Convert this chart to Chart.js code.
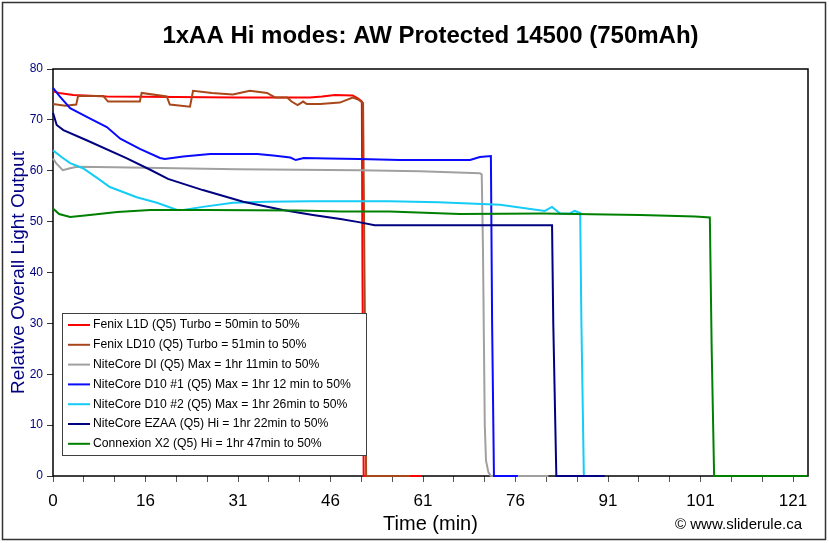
<!DOCTYPE html>
<html>
<head>
<meta charset="utf-8">
<title>1xAA Hi modes: AW Protected 14500 (750mAh)</title>
<script src="https://cdn.jsdelivr.net/npm/chart.js@4.4.0/dist/chart.umd.min.js"></script>
<style>
  html, body { margin: 0; padding: 0; background: #fff; }
  #wrap { width: 829px; height: 543px; }
</style>
</head>
<body>
<div id="wrap"><canvas id="chart" width="829" height="543"></canvas></div>
<script>
// ---- data (time in minutes, relative light output) ----
const xTickLabels = ['0', '16', '31', '46', '61', '76', '91', '101', '121'];

const l1dTime   = [0, 1, 3.3, 8.8, 20, 30, 42, 44, 46.1, 49, 49.9, 50.5, 50.6, 50.8, 60.3];
const l1dOutput = [75.6, 75.3, 74.9, 74.6, 74.5, 74.4, 74.4, 74.6, 74.9, 74.8, 74.2, 73.6, 40, 0, 0];

const ld10Time   = [0, 2, 3.8, 4.1, 8.2, 9, 14.2, 14.5, 18.6, 19.1, 22.4, 22.9, 26, 29.4, 32.2, 35, 36.3, 38.3, 39, 40, 40.9, 41.5, 43.7, 46.9, 49, 49.9, 50.7, 51.0, 51.2, 58.4];
const ld10Output = [73.1, 72.8, 73.0, 74.7, 74.7, 73.6, 73.6, 75.3, 74.6, 73.0, 72.6, 75.7, 75.3, 75.0, 75.7, 75.3, 74.4, 74.4, 73.6, 72.9, 73.6, 73.1, 73.1, 73.4, 74.4, 74.0, 73.3, 30, 0, 0];

const diTime   = [0, 0.5, 1.6, 2.8, 3.9, 10, 20, 30, 40, 50, 60, 69.8, 70.1, 70.3, 70.6, 70.8, 71.2, 71.6, 81];
const diOutput = [62.4, 61.5, 60.1, 60.5, 60.8, 60.7, 60.5, 60.3, 60.2, 60.1, 59.9, 59.5, 59.3, 45, 10, 3, 0.7, 0, 0];

const d10aTime   = [0, 1.1, 2.8, 6, 8.8, 11, 14.2, 17.5, 18.3, 21.3, 25.7, 33.4, 36, 38.8, 39.7, 41, 45, 50, 56.7, 63.3, 68.2, 69.8, 71.6, 71.8, 72.1, 76];
const d10aOutput = [76.3, 74.6, 72.3, 70.3, 68.6, 66.3, 64.3, 62.5, 62.3, 62.8, 63.3, 63.3, 63.0, 62.6, 62.1, 62.5, 62.4, 62.3, 62.1, 62.1, 62.1, 62.7, 62.9, 30, 0, 0];

const d10bTime   = [0, 1.5, 2.8, 4.9, 7.2, 9.3, 13.7, 17, 20.3, 21.3, 24.5, 29.4, 35, 42, 55, 63, 73.1, 80.4, 81.6, 82.9, 84.5, 85.3, 86.2, 86.4, 86.8, 88];
const d10bOutput = [64, 62.6, 61.5, 60.5, 58.6, 56.8, 54.8, 53.7, 52.3, 52.3, 52.9, 53.7, 53.9, 54, 54, 53.8, 53.3, 52.1, 52.9, 51.6, 51.6, 52.1, 51.7, 30, 0, 0];

const ezaaTime   = [0, 0.6, 1.7, 5.5, 12, 15.9, 18.8, 24.5, 31.1, 37.6, 42.5, 47, 50, 52.6, 60, 70, 78, 81.6, 81.8, 82.3, 90.2];
const ezaaOutput = [71.4, 69, 68, 66, 62.5, 60.2, 58.4, 56.2, 53.9, 52.3, 51.3, 50.5, 49.9, 49.3, 49.3, 49.3, 49.3, 49.3, 30, 0, 0];

const x2Time   = [0, 1, 2.8, 6, 10.5, 15.9, 25, 40, 47, 55, 66.5, 80, 96, 105, 107.4, 107.7, 108.1, 123.4];
const x2Output = [52.6, 51.5, 50.9, 51.3, 51.9, 52.3, 52.3, 52.2, 52.0, 52.0, 51.5, 51.6, 51.3, 51.0, 50.8, 25, 0, 0];

const seriesLabels = [
    'Fenix L1D (Q5) Turbo = 50min to 50%',
    'Fenix LD10 (Q5) Turbo = 51min to 50%',
    'NiteCore DI (Q5) Max = 1hr 11min to 50%',
    'NiteCore D10 #1 (Q5) Max = 1hr 12 min to 50%',
    'NiteCore D10 #2 (Q5) Max = 1hr 26min to 50%',
    'NiteCore EZAA (Q5) Hi = 1hr 22min to 50%',
    'Connexion X2 (Q5) Hi = 1hr 47min to 50%',
];
const seriesColors = ['#ff0000', '#a8481a', '#a0a0a0', '#0a0aff', '#14ccf5', '#000080', '#008000'];
const seriesTimes   = [l1dTime, ld10Time, diTime, d10aTime, d10bTime, ezaaTime, x2Time];
const seriesOutputs = [l1dOutput, ld10Output, diOutput, d10aOutput, d10bOutput, ezaaOutput, x2Output];

// ---- axis setup ----
const FONT = "'Liberation Sans', Arial, sans-serif";
const X_MAX = 121;                    // last labelled tick
const X_END = 123.45;                 // right edge of plot area
const X_STEP = X_MAX / (xTickLabels.length - 1);
const xTickValues = [];
for (let i = 0; i <= (xTickLabels.length - 1) * 3; i++) xTickValues.push(i * X_STEP / 3);

// plot box (under the lines) + outer frame + watermark
const framePlugin = {
    id: 'frame',
    beforeDatasetsDraw(chart) {
        const { ctx, chartArea: a } = chart;
        ctx.save();
        ctx.strokeStyle = '#000';
        ctx.lineWidth = 1.5;
        ctx.strokeRect(a.left, a.top, a.right - a.left, a.bottom - a.top);
        ctx.restore();
    },
    afterDraw(chart) {
        const { ctx } = chart;
        ctx.save();
        ctx.strokeStyle = '#333';
        ctx.lineWidth = 1.5;
        ctx.strokeRect(2.5, 2.5, 823, 537);
        ctx.fillStyle = '#000';
        ctx.font = `15px ${FONT}`;
        ctx.textAlign = 'right';
        ctx.textBaseline = 'middle';
        ctx.fillText('\u00a9 www.sliderule.ca', 802, 525);
        ctx.restore();
    },
};

// boxed legend in lower-left of the plot
const boxLegend = {
    id: 'boxLegend',
    afterDatasetsDraw(chart) {
        const { ctx } = chart;
        const left = 62, top = 313, w = 304, h = 142, row = 19.8, first = 325;
        ctx.save();
        ctx.fillStyle = '#fff';
        ctx.fillRect(left, top, w, h);
        ctx.strokeStyle = '#404040';
        ctx.lineWidth = 1;
        ctx.strokeRect(left + 0.5, top + 0.5, w, h);
        ctx.font = `12.2px ${FONT}`;
        ctx.textBaseline = 'middle';
        chart.data.datasets.forEach((ds, i) => {
            const y = first + i * row;
            ctx.strokeStyle = ds.borderColor;
            ctx.lineWidth = 2;
            ctx.beginPath();
            ctx.moveTo(68, y);
            ctx.lineTo(90, y);
            ctx.stroke();
            ctx.fillStyle = '#000';
            ctx.fillText(ds.label, 93, y);
        });
        ctx.restore();
    },
};

const datasets = seriesLabels.map((label, i) => ({
    label,
    data: seriesTimes[i].map((t, j) => ({ x: t, y: seriesOutputs[i][j] })),
    borderColor: seriesColors[i],
    borderWidth: 2,
    pointRadius: 0,
    tension: 0,
    clip: 4,
    order: seriesLabels.length - i,   // later series on top, like the original
}));

new Chart(document.getElementById('chart').getContext('2d'), {
    type: 'line',
    data: { datasets },
    options: {
        responsive: false,
        animation: false,
        layout: { padding: { left: 0, right: 21, top: 0, bottom: 0 } },
        plugins: {
            legend: { display: false },
            tooltip: { enabled: false },
            title: {
                display: true,
                text: '1xAA Hi modes: AW Protected 14500 (750mAh)',
                fullSize: false,
                color: '#000',
                font: { family: FONT, size: 24, weight: 'bold' },
                padding: { top: 22, bottom: 18.2 },
            },
        },
        scales: {
            x: {
                type: 'linear',
                min: 0,
                max: X_END,
                afterBuildTicks: (scale) => { scale.ticks = xTickValues.map((v) => ({ value: v })); },
                afterFit: (scale) => { scale.height = 67; },
                ticks: {
                    autoSkip: false,
                    maxRotation: 0,
                    color: '#000',
                    padding: 9,
                    font: { family: FONT, size: 17 },
                    callback: (v, idx) => (idx % 3 === 0 ? xTickLabels[idx / 3] : ''),
                },
                grid: { drawOnChartArea: false, tickLength: 6, color: '#555' },
                border: { display: false },
                title: {
                    display: true,
                    text: 'Time (min)',
                    color: '#000',
                    font: { family: FONT, size: 20 },
                    padding: { top: 0, bottom: 7 },
                },
            },
            y: {
                min: 0,
                max: 80,
                afterFit: (scale) => { scale.width = 53; },
                ticks: {
                    stepSize: 10,
                    color: '#000080',
                    padding: 4,
                    font: { family: FONT, size: 12 },
                },
                grid: { drawOnChartArea: false, tickLength: 6, color: '#333' },
                border: { display: false },
                title: {
                    display: true,
                    text: 'Relative Overall Light Output',
                    color: '#000080',
                    font: { family: FONT, size: 19 },
                    padding: { top: 7, bottom: 0 },
                },
            },
        },
    },
    plugins: [framePlugin, boxLegend],
});
</script>
</body>
</html>
